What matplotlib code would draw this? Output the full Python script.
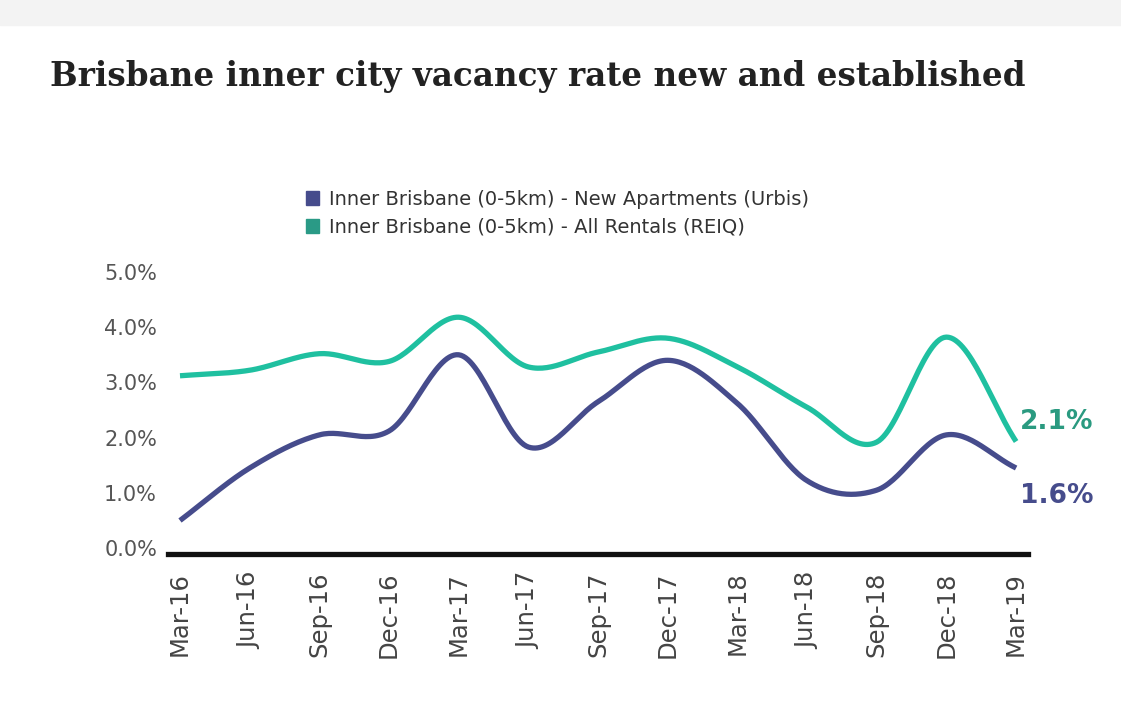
import matplotlib.pyplot as plt
import numpy as np

# quarterly inner Brisbane vacancy rates (%)
quarters = ["Mar-16", "Jun-16", "Sep-16", "Dec-16", "Mar-17", "Jun-17", "Sep-17",
            "Dec-17", "Mar-18", "Jun-18", "Sep-18", "Dec-18", "Mar-19"]
new_apartments = [0.5, 1.45, 2.05, 2.12, 3.5, 1.83, 2.65, 3.4, 2.62, 1.22, 1.05, 2.05, 1.45]
all_rentals = [3.12, 3.22, 3.52, 3.38, 4.18, 3.28, 3.55, 3.8, 3.28, 2.55, 1.92, 3.82, 1.93]
end_labels = ["1.6%", "2.1%"]

purple = "#464c8c"
teal = "#1fc0a0"


def smooth(y, n=30):
    # catmull-rom curve through the points, for drawing only
    y = np.asarray(y, dtype=float)
    p = np.concatenate([[2 * y[0] - y[1]], y, [2 * y[-1] - y[-2]]])
    xs, ys = [], []
    t = np.linspace(0, 1, n, endpoint=False)
    for i in range(len(y) - 1):
        p0, p1, p2, p3 = p[i], p[i + 1], p[i + 2], p[i + 3]
        seg = 0.5 * ((2 * p1) + (-p0 + p2) * t + (2 * p0 - 5 * p1 + 4 * p2 - p3) * t ** 2
                     + (-p0 + 3 * p1 - 3 * p2 + p3) * t ** 3)
        xs.extend(i + t)
        ys.extend(seg)
    xs.append(len(y) - 1)
    ys.append(y[-1])
    return np.array(xs), np.array(ys)


fig = plt.figure(figsize=(11.21, 7.10), dpi=100)
fig.patches.append(plt.Rectangle((0, 0.965), 1, 0.035, transform=fig.transFigure,
                                 color="#f3f3f3", zorder=-1))

fig.text(0.045, 0.892, "Brisbane inner city vacancy rate new and established",
         fontsize=23.5, fontweight="bold", family="DejaVu Serif", color="#222222",
         va="center", ha="left")

ax = fig.add_axes([0.150, 0.228, 0.767, 0.389])
x = np.arange(len(quarters))

# spine position first, it resets the tick labels
for s in ["top", "right", "left"]:
    ax.spines[s].set_visible(False)
ax.spines["bottom"].set_linewidth(3.8)
ax.spines["bottom"].set_position(("outward", 4))
ax.spines["bottom"].set_color("#111111")

sx, sy = smooth(new_apartments)
ax.plot(sx, sy, color=purple, lw=3.8, solid_capstyle="butt",
        label="Inner Brisbane (0-5km) - New Apartments (Urbis)")
sx, sy = smooth(all_rentals)
ax.plot(sx, sy, color=teal, lw=3.8, solid_capstyle="butt",
        label="Inner Brisbane (0-5km) - All Rentals (REIQ)")

ax.text(x[-1] + 0.06, new_apartments[-1] - 0.5, end_labels[0], color=purple,
        fontsize=19, fontweight="bold", va="center", ha="left")
ax.text(x[-1] + 0.06, all_rentals[-1] + 0.36, end_labels[1], color="#2a9a80",
        fontsize=19, fontweight="bold", va="center", ha="left")

ax.set_xlim(-0.17, len(quarters) - 1 + 0.17)
ax.set_ylim(0, 5)
ax.set_yticks([0, 1, 2, 3, 4, 5])
ax.set_yticklabels(["%.1f%%" % v for v in [0, 1, 2, 3, 4, 5]], fontsize=15, color="#555555")
ax.set_xticks(x)
ax.set_xticklabels(quarters, rotation=90, fontsize=17.5, color="#444444")
ax.tick_params(length=0)
ax.tick_params(axis="y", pad=8)
ax.tick_params(axis="x", pad=13)

handles = [plt.Rectangle((0, 0), 1, 1, color=purple),
           plt.Rectangle((0, 0), 1, 1, color="#2a9a86")]
labels = ["Inner Brisbane (0-5km) - New Apartments (Urbis)",
          "Inner Brisbane (0-5km) - All Rentals (REIQ)"]
fig.legend(handles, labels, loc="upper left", bbox_to_anchor=(0.257, 0.757),
           frameon=False, fontsize=14, handlelength=0.7, handleheight=0.7,
           handletextpad=0.5, labelspacing=0.45, labelcolor="#333333")

fig.savefig("out.png", dpi=100, facecolor="white")
